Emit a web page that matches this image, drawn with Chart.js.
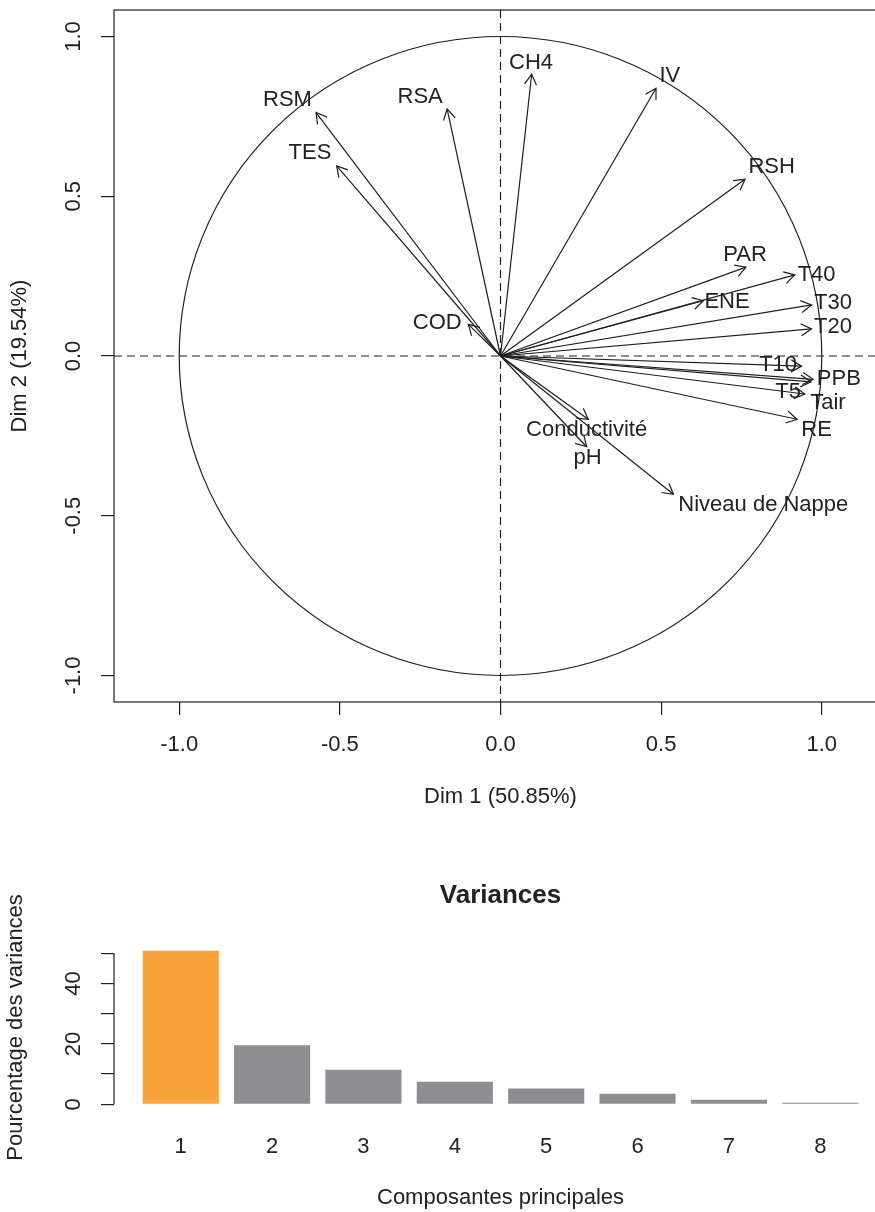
<!DOCTYPE html>
<html>
<head>
<meta charset="utf-8">
<script src="https://cdn.jsdelivr.net/npm/chart.js@4.4.1/dist/chart.umd.min.js"></script>
<style>
html, body { margin: 0; padding: 0; background: #ffffff; overflow: hidden; width: 875px; height: 1212px; }
#pca { position: absolute; left: 0; top: 0; }
#scree { position: absolute; left: 0; top: 840px; }
</style>
</head>
<body>
<canvas id="pca" width="900" height="830"></canvas>
<canvas id="scree" width="900" height="372"></canvas>
<script>
// ---------- data ----------
const variables = ['RSM', 'TES', 'RSA', 'CH4', 'IV', 'RSH', 'PAR', 'T40', 'ENE', 'T30', 'T20',
                   'T10', 'PPB', 'Tair', 'T5', 'RE', 'COD', 'Conductivité', 'pH', 'Niveau de Nappe'];
const dim1 = [-0.574, -0.510, -0.166, 0.097, 0.484, 0.761, 0.764, 0.916, 0.631, 0.968, 0.968,
              0.937, 0.973, 0.966, 0.947, 0.923, -0.100, 0.273, 0.268, 0.538];
const dim2 = [0.762, 0.595, 0.773, 0.882, 0.838, 0.553, 0.278, 0.254, 0.173, 0.160, 0.085,
              -0.032, -0.073, -0.081, -0.119, -0.198, 0.099, -0.198, -0.284, -0.433];
const labelDim1 = [-0.663, -0.593, -0.250, 0.095, 0.527, 0.844, 0.761, 0.984, 0.705, 1.035, 1.035,
                   0.864, 1.053, 1.019, 0.895, 0.984, -0.197, 0.268, 0.271, 0.818];
const labelDim2 = [0.801, 0.635, 0.812, 0.918, 0.876, 0.592, 0.316, 0.254, 0.170, 0.166, 0.091,
                   -0.028, -0.073, -0.147, -0.112, -0.232, 0.102, -0.232, -0.320, -0.466];
const axisTicks = [-1, -0.5, 0, 0.5, 1];
const dim1Title = 'Dim 1 (50.85%)';
const dim2Title = 'Dim 2 (19.54%)';

const components = [1, 2, 3, 4, 5, 6, 7, 8];
const variances = [50.85, 19.54, 11.4, 7.5, 5.2, 3.5, 1.5, 0.5];
const varianceTicks = [0, 10, 20, 30, 40, 50];
const varianceTickLabels = ['0', '', '20', '', '40', ''];
const screeTitle = 'Variances';
const screeXTitle = 'Composantes principales';
const screeYTitle = 'Pourcentage des variances';

// ---------- styles ----------
const FONT = "'Liberation Sans', Arial, Helvetica, sans-serif";
const INK = '#1e1e1e';
const TXT = '#222222';
const ORANGE = '#F8A33A';
const GRAY = '#8E8E92';
const LW = 1.2;

function drawRotated(ctx, text, x, y, font) {
  ctx.save();
  ctx.translate(x, y);
  ctx.rotate(-Math.PI / 2);
  ctx.font = font;
  ctx.fillStyle = TXT;
  ctx.textAlign = 'center';
  ctx.textBaseline = 'middle';
  ctx.fillText(text, 0, 0);
  ctx.restore();
}

// ---------- PCA correlation circle ----------
const pcaDecor = {
  id: 'pcaDecor',
  beforeDatasetsDraw(chart) {
    const { ctx, chartArea: a, scales: { x, y } } = chart;
    const x0 = x.getPixelForValue(0), y0 = y.getPixelForValue(0);
    ctx.save();
    ctx.beginPath();
    ctx.rect(a.left, a.top, a.right - a.left, a.bottom - a.top);
    ctx.clip();
    ctx.strokeStyle = INK;
    ctx.lineWidth = LW;
    ctx.setLineDash([8, 5]);
    ctx.beginPath();
    ctx.moveTo(x0, a.top); ctx.lineTo(x0, a.bottom);
    ctx.moveTo(a.left, y0); ctx.lineTo(a.right, y0);
    ctx.stroke();
    ctx.setLineDash([]);
    ctx.beginPath();
    ctx.ellipse(x0, y0, x.getPixelForValue(1) - x0, y0 - y.getPixelForValue(1), 0, 0, Math.PI * 2);
    ctx.stroke();
    ctx.restore();
  },
  afterDatasetsDraw(chart) {
    const { ctx, scales: { x, y } } = chart;
    ctx.save();
    ctx.strokeStyle = INK;
    ctx.lineWidth = LW;
    const L = 12, ang = Math.PI / 6;
    chart.data.datasets.forEach((ds, i) => {
      const pts = chart.getDatasetMeta(i).data;
      const p0 = pts[0], p1 = pts[1];
      const t = Math.atan2(p1.y - p0.y, p1.x - p0.x);
      ctx.beginPath();
      ctx.moveTo(p1.x - L * Math.cos(t - ang), p1.y - L * Math.sin(t - ang));
      ctx.lineTo(p1.x, p1.y);
      ctx.lineTo(p1.x - L * Math.cos(t + ang), p1.y - L * Math.sin(t + ang));
      ctx.stroke();
    });
    ctx.font = '22px ' + FONT;
    ctx.fillStyle = TXT;
    ctx.textAlign = 'center';
    ctx.textBaseline = 'middle';
    variables.forEach((name, i) => {
      ctx.fillText(name, x.getPixelForValue(labelDim1[i]), y.getPixelForValue(labelDim2[i]));
    });
    ctx.restore();
  },
  afterDraw(chart) {
    const { ctx, chartArea: a, scales: { y } } = chart;
    ctx.save();
    ctx.strokeStyle = INK;
    ctx.lineWidth = LW;
    ctx.strokeRect(a.left, a.top, a.right - a.left, a.bottom - a.top);
    ctx.restore();
    y.ticks.forEach(t => {
      drawRotated(ctx, t.value.toFixed(1), 74, y.getPixelForValue(t.value), '22px ' + FONT);
    });
    drawRotated(ctx, dim2Title, 20, (a.top + a.bottom) / 2, '22px ' + FONT);
    ctx.save();
    ctx.font = '22px ' + FONT;
    ctx.fillStyle = TXT;
    ctx.textAlign = 'center';
    ctx.textBaseline = 'middle';
    ctx.fillText(dim1Title, (a.left + a.right) / 2, a.bottom + 95);
    ctx.restore();
  }
};

new Chart(document.getElementById('pca'), {
  type: 'scatter',
  data: {
    datasets: variables.map((name, i) => ({
      label: name,
      data: [{ x: 0, y: 0 }, { x: dim1[i], y: dim2[i] }],
      showLine: true,
      borderColor: INK,
      borderWidth: LW,
      pointRadius: 0,
      pointHoverRadius: 0,
      fill: false
    }))
  },
  options: {
    responsive: false,
    animation: false,
    events: [],
    layout: { padding: { top: 10, right: 13, left: 0, bottom: 0 } },
    plugins: { legend: { display: false }, tooltip: { enabled: false } },
    scales: {
      x: {
        type: 'linear', min: -1.203, max: 1.203,
        afterBuildTicks: s => { s.ticks = axisTicks.map(v => ({ value: v })); },
        afterFit: s => { s.height = 128; },
        grid: { drawOnChartArea: false, drawTicks: true, tickLength: 13, color: INK, lineWidth: LW },
        border: { display: false },
        ticks: { padding: 16.5, font: { family: FONT, size: 22 }, color: TXT, maxRotation: 0, autoSkip: false,
                 callback: v => Number(v).toFixed(1) }
      },
      y: {
        type: 'linear', min: -1.083, max: 1.083,
        afterBuildTicks: s => { s.ticks = axisTicks.map(v => ({ value: v })); },
        afterFit: s => { s.width = 114; },
        grid: { drawOnChartArea: false, drawTicks: true, tickLength: 13, color: INK, lineWidth: LW },
        border: { display: false },
        ticks: { display: false }
      }
    }
  },
  plugins: [pcaDecor]
});

// ---------- scree plot ----------
const screeDecor = {
  id: 'screeDecor',
  afterDraw(chart) {
    const { ctx, chartArea: a, scales: { y } } = chart;
    ctx.save();
    ctx.strokeStyle = INK;
    ctx.lineWidth = LW;
    ctx.beginPath();
    ctx.moveTo(a.left, y.getPixelForValue(varianceTicks[0]));
    ctx.lineTo(a.left, y.getPixelForValue(varianceTicks[varianceTicks.length - 1]));
    ctx.stroke();
    ctx.restore();
    varianceTicks.forEach((v, i) => {
      if (varianceTickLabels[i]) drawRotated(ctx, varianceTickLabels[i], 74, y.getPixelForValue(v), '22px ' + FONT);
    });
    drawRotated(ctx, screeYTitle, 16, (a.top + a.bottom) / 2 + 3, '22px ' + FONT);
    ctx.save();
    ctx.fillStyle = TXT;
    ctx.textAlign = 'center';
    ctx.textBaseline = 'middle';
    ctx.font = '22px ' + FONT;
    ctx.fillText(screeXTitle, (a.left + a.right) / 2, a.bottom + 94);
    ctx.font = 'bold 26px ' + FONT;
    ctx.fillText(screeTitle, (a.left + a.right) / 2, 55.8);
    ctx.restore();
  }
};

new Chart(document.getElementById('scree'), {
  type: 'bar',
  data: {
    labels: components,
    datasets: [{
      data: variances,
      backgroundColor: c => (c.dataIndex === 0 ? ORANGE : GRAY),
      borderWidth: 0,
      categoryPercentage: 1,
      barPercentage: 0.833
    }]
  },
  options: {
    responsive: false,
    animation: false,
    events: [],
    layout: { padding: { top: 104.6, right: 13, left: 0, bottom: 0 } },
    plugins: { legend: { display: false }, tooltip: { enabled: false } },
    scales: {
      x: {
        type: 'linear', min: 0.27, max: 8.73, offset: false,
        afterBuildTicks: s => { s.ticks = components.map(v => ({ value: v })); },
        afterFit: s => { s.height = 107.7; },
        grid: { display: false, offset: false, drawTicks: false },
        border: { display: false },
        ticks: { padding: 29, font: { family: FONT, size: 22 }, color: TXT, maxRotation: 0, autoSkip: false }
      },
      y: {
        type: 'linear', min: 0, max: 52.88,
        afterBuildTicks: s => { s.ticks = varianceTicks.map(v => ({ value: v })); },
        afterFit: s => { s.width = 114; },
        grid: { drawOnChartArea: false, drawTicks: true, tickLength: 13, color: INK, lineWidth: LW },
        border: { display: false },
        ticks: { display: false }
      }
    }
  },
  plugins: [screeDecor]
});
</script>
</body>
</html>
